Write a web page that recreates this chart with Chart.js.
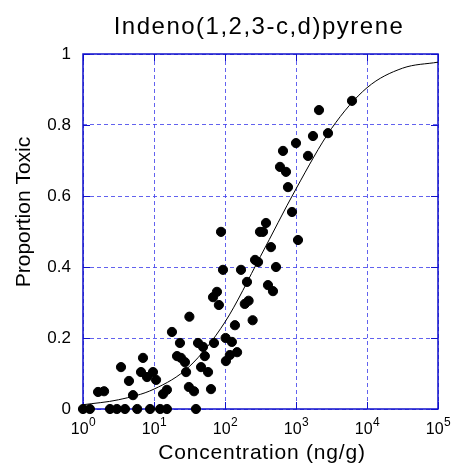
<!DOCTYPE html>
<html>
<head>
<meta charset="utf-8">
<script src="https://cdn.jsdelivr.net/npm/chart.js@4.4.0/dist/chart.umd.min.js"></script>
<style>
  html, body { margin: 0; padding: 0; background: #fff; }
  #wrap { width: 456px; height: 464px; }
</style>
</head>
<body>
<div id="wrap"><canvas id="chart" width="456" height="464"></canvas></div>
<script>
const titleText = "Indeno(1,2,3-c,d)pyrene";
const xTitle = "Concentration (ng/g)";
const yTitle = "Proportion Toxic";

// observed samples: concentration (ng/g) and proportion toxic
const conc = [
  1.0, 1.25, 2.4, 3.0, 3.9, 5.8, 8.8, 12.2, 15.2, 39,
  1.63, 1.98, 3.43, 4.44, 5.06, 6.56, 7.0, 7.97, 9.68, 10.7, 13.4, 15.2,
  17.9, 21.1, 23.2, 24.0, 27.3, 28.3, 31.0, 31.5, 36.6, 41.7, 46, 49, 52, 57.7,
  63.5, 67.8, 70, 77, 82, 87.9, 93.7, 102, 103, 117, 125, 138, 148,
  168, 190, 204, 215, 245, 265, 292, 311, 343, 378, 403, 444, 474, 523,
  595, 656, 723, 771, 879, 1000, 1067, 1476, 1735, 2108, 2823, 6150
];
const propToxic = [
  0, 0, 0, 0, 0, 0, 0, 0, 0, 0,
  0.048, 0.05, 0.118, 0.079, 0.039, 0.104, 0.144, 0.09, 0.104, 0.082, 0.042, 0.054,
  0.217, 0.149, 0.186, 0.144, 0.132, 0.104, 0.062, 0.26, 0.05, 0.186, 0.118, 0.175, 0.149, 0.104,
  0.056, 0.315, 0.186, 0.33, 0.293, 0.499, 0.392, 0.2, 0.135, 0.152, 0.189, 0.236, 0.16,
  0.392, 0.296, 0.358, 0.305, 0.25, 0.42, 0.414, 0.499, 0.499, 0.524, 0.349, 0.456, 0.332, 0.4,
  0.682, 0.727, 0.668, 0.625, 0.555, 0.749, 0.476, 0.713, 0.769, 0.842, 0.777, 0.868
];

// fitted curve read at half-decade steps
const curveX = [1, 3.16, 10, 31.6, 100, 316, 1000, 3162, 10000, 31623, 100000];
const curveY = [0.012, 0.026, 0.056, 0.12, 0.245, 0.43, 0.62, 0.79, 0.905, 0.96, 0.977];

const xTicks = [1, 10, 100, 1000, 10000, 100000];
const yTickLabels = ["0", "0.2", "0.4", "0.6", "0.8", "1"];

const font = "'Liberation Sans', Arial, Helvetica, sans-serif";
const frameColor = "#1010cc";
const gridColor = "rgba(70,70,235,0.85)";

const points = conc.map((c, i) => ({ x: c, y: propToxic[i] }));
const curve = curveX.map((c, i) => ({ x: c, y: curveY[i] }));

const framePlugin = {
  id: "frame",
  beforeDatasetsDraw(chart) {
    const { ctx, chartArea: a, scales } = chart;
    ctx.save();
    ctx.strokeStyle = frameColor;
    ctx.lineWidth = 1.5;
    ctx.strokeRect(a.left, a.top, a.right - a.left, a.bottom - a.top);
    ctx.lineWidth = 1;
    ctx.beginPath();
    scales.y.ticks.forEach(t => {
      const py = Math.round(scales.y.getPixelForValue(t.value)) + 0.5;
      ctx.moveTo(a.left, py); ctx.lineTo(a.left + 7, py);
      ctx.moveTo(a.right, py); ctx.lineTo(a.right - 7, py);
    });
    scales.x.ticks.forEach(t => {
      const px = Math.round(scales.x.getPixelForValue(t.value)) + 0.5;
      ctx.moveTo(px, a.bottom); ctx.lineTo(px, a.bottom - 7);
      ctx.moveTo(px, a.top); ctx.lineTo(px, a.top + 7);
    });
    ctx.stroke();
    ctx.restore();
  },
  afterDraw(chart) {
    const { ctx, scales } = chart;
    ctx.save();
    ctx.fillStyle = "#000";
    ctx.textBaseline = "alphabetic";

    // x tick labels as 10 with a raised exponent
    xTicks.forEach((v, i) => {
      const px = scales.x.getPixelForValue(v);
      const exp = String(Math.round(Math.log10(v)));
      ctx.font = "16px " + font;
      const w1 = ctx.measureText("10").width;
      ctx.font = "12px " + font;
      const w2 = ctx.measureText(exp).width;
      const left = px - (w1 + w2) / 2;
      ctx.textAlign = "left";
      ctx.font = "16px " + font;
      ctx.fillText("10", left, 434);
      ctx.font = "12px " + font;
      ctx.fillText(exp, left + w1 + 0.5, 426);
    });

    ctx.textAlign = "center";
    ctx.font = "24px " + font;
    ctx.letterSpacing = "1.5px";
    ctx.fillText(titleText, 259, 34);
    ctx.font = "21px " + font;
    ctx.letterSpacing = "0.8px";
    ctx.fillText(xTitle, 262, 459);
    ctx.letterSpacing = "0px";
    ctx.translate(30, 212);
    ctx.rotate(-Math.PI / 2);
    ctx.fillText(yTitle, 0, 0);
    ctx.restore();
  }
};

new Chart(document.getElementById("chart"), {
  type: "scatter",
  data: {
    datasets: [
      {
        label: "curve",
        type: "line",
        data: curve,
        borderColor: "#000",
        borderWidth: 1,
        pointRadius: 0,
        fill: false,
        cubicInterpolationMode: "monotone",
        order: 2
      },
      {
        label: "samples",
        data: points,
        backgroundColor: "#000",
        borderColor: "#000",
        pointRadius: 4.6,
        pointHoverRadius: 4.6,
        clip: false,
        order: 1
      }
    ]
  },
  options: {
    responsive: false,
    animation: false,
    events: [],
    layout: { padding: { top: 54, right: 18, left: 0, bottom: 0 } },
    plugins: { legend: { display: false }, tooltip: { enabled: false } },
    scales: {
      x: {
        type: "logarithmic",
        min: 1,
        max: 100000,
        afterBuildTicks: s => { s.ticks = xTicks.map(v => ({ value: v })); },
        afterFit: s => { s.height = 55; },
        ticks: { display: false, autoSkip: false, maxRotation: 0 },
        grid: { color: gridColor, lineWidth: 1, drawTicks: false },
        border: { display: false, dash: [4, 3] }
      },
      y: {
        min: 0,
        max: 1,
        afterFit: s => { s.width = 83; },
        ticks: {
          stepSize: 0.2,
          padding: 12,
          color: "#000",
          font: { family: font, size: 17 },
          callback: (v, i) => yTickLabels[i]
        },
        grid: { color: gridColor, lineWidth: 1, drawTicks: false },
        border: { display: false, dash: [4, 3] }
      }
    }
  },
  plugins: [framePlugin]
});
</script>
</body>
</html>
